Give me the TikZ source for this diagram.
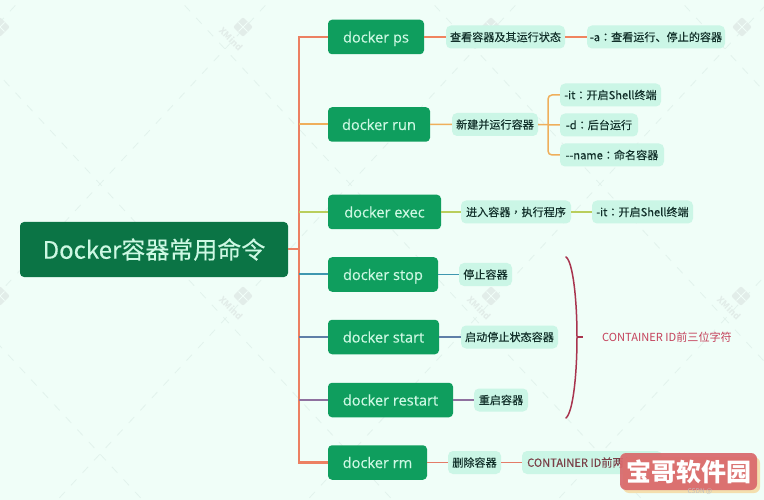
\documentclass[tikz,border=0pt]{standalone}
\usepackage{fontspec}
\setmainfont{Noto Sans CJK SC}
\newfontfamily\cmdfont{Open Sans}[FakeBold=0.4]
\newfontfamily\labfont{Noto Sans CJK SC}[FakeBold=0.25]
\newfontfamily\tcfont{Noto Sans CJK TC}[FakeBold=0.25]
\newcommand{\cc}{{\tcfont ：}}
\newcommand{\cm}{{\tcfont ，}}
\definecolor{bgc}{HTML}{F0FEF8}
\definecolor{rootc}{HTML}{0B7445}
\definecolor{cmdc}{HTML}{0F9E5E}
\definecolor{labc}{HTML}{CBF6E6}
\definecolor{inkc}{HTML}{12302A}
\definecolor{cmdt}{HTML}{CDF8E3}
\definecolor{wmc}{HTML}{E2EDE9}
\definecolor{dashc}{HTML}{E2F2EC}
\definecolor{trunkc}{HTML}{EC8062}
\definecolor{c1}{HTML}{F0845F}
\definecolor{c2}{HTML}{EFAF5C}
\definecolor{c3}{HTML}{B9CE5C}
\definecolor{c4}{HTML}{3E97B0}
\definecolor{c5}{HTML}{5F7FA8}
\definecolor{c6}{HTML}{8F719F}
\definecolor{c7}{HTML}{E47C68}
\definecolor{bracec}{HTML}{A8344E}
\definecolor{redtxt}{HTML}{C4405A}
\definecolor{mutedred}{HTML}{7A3F47}
\definecolor{badgec}{HTML}{D9686B}
\definecolor{shadowc}{HTML}{F4DFAE}
\tikzset{
 rootbox/.style={fill=rootc,rounded corners=4pt,minimum height=55pt,text=cmdt,inner sep=0pt,font=\labfont\fontsize{24}{26}\selectfont},
 cmdbox/.style={fill=cmdc,rounded corners=4pt,minimum height=34.5pt,text=cmdt,inner sep=0pt,text height=11pt,text depth=0pt,font=\cmdfont\fontsize{14.6}{18}\selectfont},
 lab/.style={fill=labc,rounded corners=5pt,minimum height=23pt,text=inkc,inner sep=0pt,font=\labfont\fontsize{11.1}{13}\selectfont},
 plain/.style={inner sep=0pt,text=redtxt,font=\fontsize{11.1}{13}\selectfont},
 branch/.style={line width=2pt},
 twig/.style={line width=1.5pt},
 wicon/.pic={
   \fill[wmc,rounded corners=2pt,rotate=45] (-7,-7) rectangle (7,7);
   \draw[bgc,line width=1pt] (-4.5,-4.5) -- (4.5,4.5) (-4.5,4.5) -- (4.5,-4.5);
 },
 wmark/.pic={
   \pic {wicon};
   \node[text=wmc,rotate=-45,inner sep=0pt,font=\bfseries\fontsize{9}{10}\selectfont] (wmt) at (-12,12) {XMind};
 }
}
\begin{document}
\begin{tikzpicture}[x=1pt,y=-1pt]
\useasboundingbox (0,0) rectangle (764,500);
\fill[bgc] (0,0) rectangle (764,500);
% faint background lattice
\begin{scope}
\clip (0,0) rectangle (764,500);
\foreach \k in {-4,...,5}{
  \draw[dashc,line width=.8pt,dash pattern=on 8pt off 9pt] ({100+250*\k-200},{184-216}) -- ({100+250*\k+600},{184+648});
  \draw[dashc,line width=.8pt,dash pattern=on 8pt off 9pt] ({100+250*\k+200},{184-216}) -- ({100+250*\k-600},{184+648});
}
\end{scope}
% XMind marks
\foreach \px/\py in {0/27,491/27,742/27,0/296}{
  \pic at (\px,\py) {wicon};
}
\foreach \px/\py in {243/27,243/296,491/296,741/296}{
  \pic at (\px,\py) {wmark};
}
% nodes
\node[rootbox,minimum width=268pt] (root) at (154,249.5) {Docker容器常用命令};
\node[cmdbox,minimum width=96pt] (ps) at (376,37) {docker ps};
\node[cmdbox,minimum width=102pt] (run) at (379,124.5) {docker run};
\node[cmdbox,minimum width=113pt] (exec) at (384.5,212) {docker exec};
\node[cmdbox,minimum width=110pt] (stop) at (383,274.5) {docker stop};
\node[cmdbox,minimum width=111pt] (start) at (383.5,337) {docker start};
\node[cmdbox,minimum width=125pt] (restart) at (390.5,400) {docker restart};
\node[cmdbox,minimum width=99pt] (rm) at (377.5,462.5) {docker rm};
\node[lab,minimum width=119pt] (psa) at (505.5,37) {查看容器及其运行状态};
\node[lab,minimum width=138pt] (psb) at (656,37) {-a\cc 查看运行、停止的容器};
\node[lab,minimum width=86pt] (runa) at (495,124.5) {新建并运行容器};
\node[lab,minimum width=101pt] (runb) at (610.5,95) {-it\cc 开启Shell终端};
\node[lab,minimum width=78pt] (runc) at (599,125) {-d\cc 后台运行};
\node[lab,minimum width=104pt] (rund) at (612,155) {-{}-name\cc 命名容器};
\node[lab,minimum width=110pt] (execa) at (516,212) {进入容器\cm 执行程序};
\node[lab,minimum width=101pt] (execb) at (642.5,212) {-it\cc 开启Shell终端};
\node[lab,minimum width=53pt] (stopa) at (485.5,274.5) {停止容器};
\node[lab,minimum width=97pt] (starta) at (509.5,337) {启动停止状态容器};
\node[lab,minimum width=54pt] (restarta) at (501,400) {重启容器};
\node[lab,minimum width=53pt] (rma) at (474.5,462.5) {删除容器};
\node[lab,minimum width=140pt,text=mutedred] (rmb) at (592,462.5) {CONTAINER ID前两位字符};
\node[plain] (idnote) at (667,337) {CONTAINER ID前三位字符};
% trunk and branches
\coordinate (t1) at (299,37);
\coordinate (t2) at (299,124.5);
\coordinate (t3) at (299,212);
\coordinate (t0) at (299,249.5);
\coordinate (t4) at (299,274.5);
\coordinate (t5) at (299,337);
\coordinate (t6) at (299,400);
\coordinate (t7) at (299,462.5);
\draw[trunkc,line width=2.4pt] (ps.west) -- (t1) -- (t7) -- (rm.west);
\draw[trunkc,branch] (root.east) -- (t0);
\draw[c2,branch] (t2) -- (run.west);
\draw[c3,branch] (t3) -- (exec.west);
\draw[c4,branch] (t4) -- (stop.west);
\draw[c5,branch] (t5) -- (start.west);
\draw[c6,branch] (t6) -- (restart.west);
% twigs
\draw[c1,twig] (ps.east) -- (psa.west) (psa.east) -- (psb.west);
\draw[c2,twig] (run.east) -- (runa.west) (runa.east) -- (runc.west);
\coordinate (fork) at (548,124.5);
\draw[c2,twig,rounded corners=4pt] (runb.west) -| (fork) |- (rund.west);
\draw[c3,twig] (exec.east) -- (execa.west) (execa.east) -- (execb.west);
\draw[c4,twig] (stop.east) -- (stopa.west);
\draw[c5,twig] (start.east) -- (starta.west);
\draw[c6,twig] (restart.east) -- (restarta.west);
\draw[c7,twig] (rm.east) -- (rma.west) (rma.east) -- (rmb.west);
% summary brace
\coordinate (bt) at (566,257);
\coordinate (bm) at (577,337);
\coordinate (bb) at (566,418);
\coordinate (bs) at (583,337);
\draw[bracec,line width=1.5pt,line cap=round] (bt) .. controls (573,262) and (577,300) .. (bm) .. controls (577,375) and (573,412) .. (bb);
\draw[bracec,line width=1.2pt] (bm) -- (bs);
% overlay badge
\fill[rounded corners=6pt,fill=shadowc] (623,457) rectangle (760,493);
\node[fill=badgec,fill opacity=.92,text opacity=1,rounded corners=6pt,minimum width=137pt,minimum height=37pt,inner sep=0pt,text=white,font=\bfseries\fontsize{25}{27}\selectfont] (badge) at (688.5,471.5) {宝哥软件园};
\node[inner sep=0pt,text=black!25,font=\fontsize{6.5}{8}\selectfont] (csdn) at (700,492) {CSDN @};
\end{tikzpicture}
\end{document}
